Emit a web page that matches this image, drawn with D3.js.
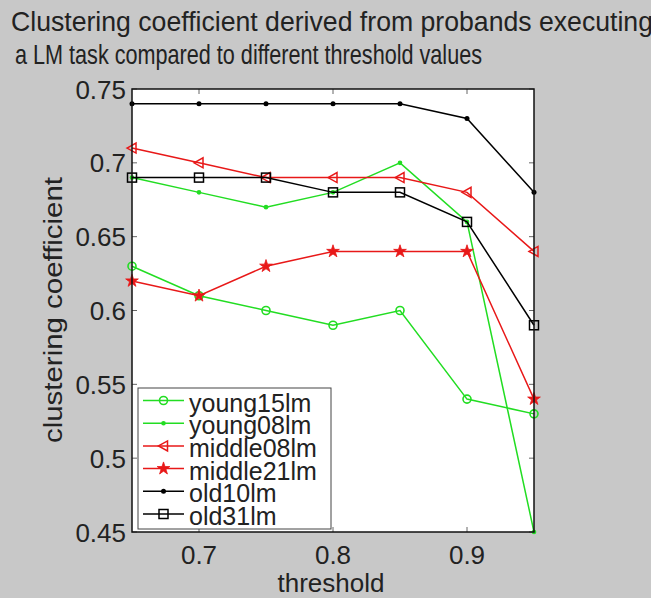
<!DOCTYPE html>
<html><head><meta charset="utf-8">
<script src="https://cdn.jsdelivr.net/npm/d3@7"></script>
<style>body{margin:0;background:#c8c8c8;}svg{display:block;}text{font-family:"Liberation Sans",Arial,sans-serif;fill:#222;}</style>
</head><body>
<svg id="c" width="651" height="598"></svg>
<script>
const thresholds = [0.65, 0.70, 0.75, 0.80, 0.85, 0.90, 0.95];
const seriesNames = ["young15lm","young08lm","middle08lm","middle21lm","old10lm","old31lm"];
const young15lm  = [0.63, 0.61, 0.60, 0.59, 0.60, 0.54, 0.53];
const young08lm  = [0.69, 0.68, 0.67, 0.68, 0.70, 0.66, 0.45];
const middle08lm = [0.71, 0.70, 0.69, 0.69, 0.69, 0.68, 0.64];
const middle21lm = [0.62, 0.61, 0.63, 0.64, 0.64, 0.64, 0.54];
const old10lm    = [0.74, 0.74, 0.74, 0.74, 0.74, 0.73, 0.68];
const old31lm    = [0.69, 0.69, 0.69, 0.68, 0.68, 0.66, 0.59];
const xTicks = [0.7, 0.8, 0.9];
const yTicks = [0.45, 0.5, 0.55, 0.6, 0.65, 0.7, 0.75];
const yTickLabels = ["0.45","0.5","0.55","0.6","0.65","0.7","0.75"];

const GREEN = "#22dd22", RED = "#e81818", BLACK = "#000";
const markers = ["circle","dot","triangle","star","point","square"];
const colors = [GREEN, GREEN, RED, RED, BLACK, BLACK];
const valuesList = [young15lm, young08lm, middle08lm, middle21lm, old10lm, old31lm];
const series = seriesNames.map((n,i) => ({name:n, values:valuesList[i], color:colors[i], marker:markers[i]}));

const svg = d3.select("#c");
const L = 132, R = 534, T = 89, B = 532;
const x = d3.scaleLinear().domain([0.65, 0.95]).range([L, R]);
const y = d3.scaleLinear().domain([0.45, 0.75]).range([B, T]);

// title
svg.append("text").attr("x", 11).attr("y", 31).attr("font-size", 27.5).attr("textLength", 642).attr("lengthAdjust","spacingAndGlyphs")
  .text("Clustering coefficient derived from probands executing");
svg.append("text").attr("x", 15).attr("y", 64).attr("font-size", 27.5).attr("textLength", 467).attr("lengthAdjust","spacingAndGlyphs")
  .text("a LM task compared to different threshold values");

// plot bg
svg.append("rect").attr("x", L).attr("y", T).attr("width", R-L).attr("height", B-T).attr("fill", "#fff");

const g = svg.append("g");
const tl = 5;
xTicks.forEach(t => {
  g.append("line").attr("x1", x(t)).attr("x2", x(t)).attr("y1", B).attr("y2", B-tl).attr("stroke","#666");
  g.append("line").attr("x1", x(t)).attr("x2", x(t)).attr("y1", T).attr("y2", T+tl).attr("stroke","#666");
  g.append("text").attr("x", x(t)).attr("y", 564).attr("text-anchor","middle").attr("font-size", 26).text(d3.format(".1f")(t));
});
yTicks.forEach((t,i) => {
  g.append("line").attr("x1", L).attr("x2", L+tl).attr("y1", y(t)).attr("y2", y(t)).attr("stroke","#666");
  g.append("line").attr("x1", R).attr("x2", R-tl).attr("y1", y(t)).attr("y2", y(t)).attr("stroke","#666");
  g.append("text").attr("x", 126).attr("y", y(t)+9.5).attr("text-anchor","end").attr("font-size", 26).text(yTickLabels[i]);
});
// axis labels
svg.append("text").attr("x", 331).attr("y", 592).attr("text-anchor","middle").attr("font-size", 26).text("threshold");
svg.append("text").attr("transform","translate(62,310) rotate(-90)").attr("text-anchor","middle").attr("font-size", 26)
  .attr("textLength", 266).attr("lengthAdjust","spacingAndGlyphs").text("clustering coefficient");

function drawMarker(sel, type, color, cx, cy) {
  if (type === "circle") sel.append("circle").attr("cx",cx).attr("cy",cy).attr("r",4).attr("fill","none").attr("stroke",color).attr("stroke-width",1.6);
  else if (type === "dot") sel.append("circle").attr("cx",cx).attr("cy",cy).attr("r",2.3).attr("fill",color);
  else if (type === "point") sel.append("circle").attr("cx",cx).attr("cy",cy).attr("r",2.5).attr("fill",color);
  else if (type === "triangle") sel.append("path").attr("d",`M${cx-5},${cy}L${cx+4},${cy-5}L${cx+4},${cy+5}Z`).attr("fill","none").attr("stroke",color).attr("stroke-width",1.5);
  else if (type === "square") sel.append("rect").attr("x",cx-4.5).attr("y",cy-4.5).attr("width",9).attr("height",9).attr("fill","none").attr("stroke",color).attr("stroke-width",1.5);
  else if (type === "star") sel.append("path").attr("d", d3.symbol().type(d3.symbolStar).size(50)()).attr("transform",`translate(${cx},${cy})`).attr("fill",color).attr("stroke",color).attr("stroke-width",0.8);
}

const line = d3.line().x((d,i)=>x(thresholds[i])).y(d=>y(d));
series.forEach(s => {
  const sg = g.append("g");
  sg.append("path").attr("d", line(s.values)).attr("fill","none").attr("stroke", s.color).attr("stroke-width", 1.5);
  s.values.forEach((v,i) => drawMarker(sg, s.marker, s.color, x(thresholds[i]), y(v)));
});

// box
svg.append("rect").attr("x", L).attr("y", T).attr("width", R-L).attr("height", B-T).attr("fill","none").attr("stroke","#111").attr("stroke-width",1.5);

// legend
const lg = svg.append("g");
lg.append("rect").attr("x",138).attr("y",388).attr("width",193).attr("height",141).attr("fill","#fff").attr("stroke","#444").attr("stroke-width",1);
series.forEach((s,i) => {
  const cy = 400.5 + i*22.7;
  lg.append("line").attr("x1",143).attr("x2",184).attr("y1",cy).attr("y2",cy).attr("stroke",s.color).attr("stroke-width",1.5);
  drawMarker(lg, s.marker, s.color, 163.5, cy);
  lg.append("text").attr("x",189).attr("y",cy+11).attr("font-size",25).text(s.name);
});
</script>
</body></html>
